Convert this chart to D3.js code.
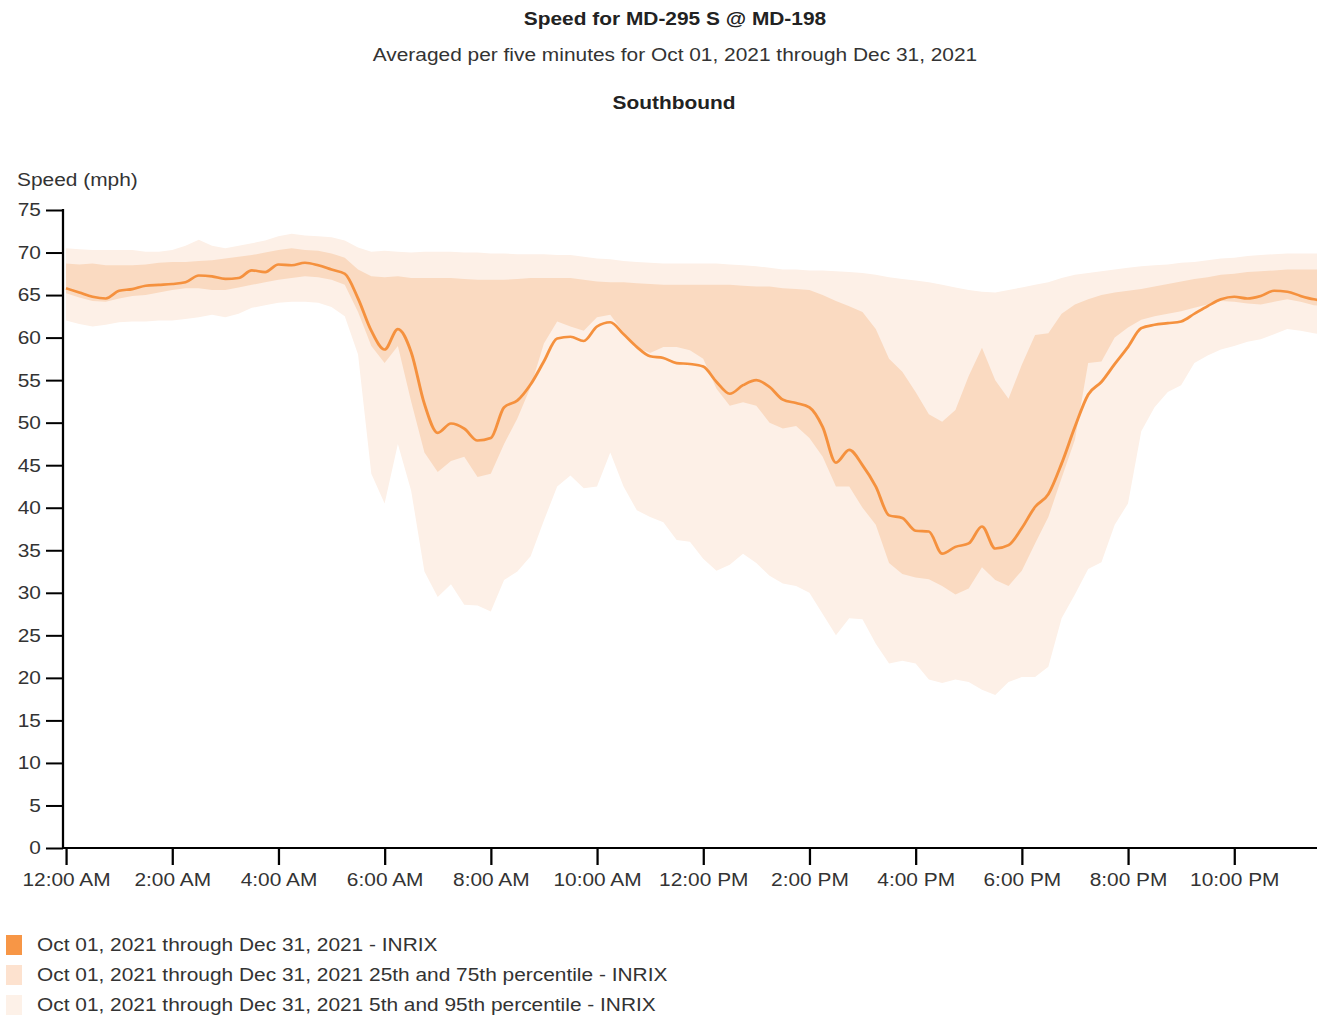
<!DOCTYPE html>
<html>
<head>
<meta charset="utf-8">
<script src="https://cdn.jsdelivr.net/npm/d3@7"></script>
<style>
  body { margin: 0; background: #fff; }
  svg { display: block; font-family: "Liberation Sans", Arial, sans-serif; }
  .axis text { font-size: 18.5px; fill: #333; }
  .axis line, .axis path { stroke: #000; stroke-width: 2; }
</style>
</head>
<body>
<div id="chart"></div>
<script>
// 15-minute readings, 0:00 through 23:45 (one row per hour)
const meanSpeed = [
  65.8, 65.3, 64.8, 64.6,  65.5, 65.7, 66.1, 66.2,  66.3, 66.5, 67.3, 67.2,
  66.9, 67.0, 67.9, 67.7,  68.6, 68.5, 68.8, 68.5,  68.0, 67.5, 64.6, 60.8,
  58.6, 61.0, 58.3, 52.2,  48.8, 49.9, 49.3, 47.9,  48.2, 51.8, 52.6, 54.5,
  57.2, 59.9, 60.1, 59.6,  61.3, 61.8, 60.4, 58.9,  57.8, 57.6, 57.0, 56.9,
  56.6, 54.8, 53.4, 54.4,  55.0, 54.2, 52.7, 52.3,  51.8, 49.5, 45.3, 46.8,
  45.0, 42.5, 39.1, 38.8,  37.3, 37.2, 34.6, 35.4,  35.8, 37.8, 35.2, 35.6,
  37.6, 40.1, 41.6, 45.2,  49.5, 53.3, 54.8, 56.9,  58.9, 61.1, 61.5, 61.7,
  61.9, 62.8, 63.7, 64.5,  64.8, 64.6, 64.9, 65.5,  65.4, 64.9, 64.5, 64.3
];
const p75 = [
  68.7, 68.6, 68.7, 68.5,  68.5, 68.5, 68.6, 68.8,  68.9, 68.9, 69.0, 69.1,
  69.3, 69.5, 69.7, 70.0,  70.3, 70.5, 70.3, 70.2,  69.9, 69.4, 68.0, 67.2,
  67.1, 67.2, 67.0, 67.0,  67.0, 67.0, 66.9, 66.8,  66.8, 66.8, 66.9, 67.0,
  67.0, 67.0, 67.0, 66.8,  66.6, 66.5, 66.5, 66.4,  66.3, 66.2, 66.2, 66.2,
  66.2, 66.2, 66.2, 66.1,  66.0, 66.0, 65.8, 65.7,  65.6, 65.0, 64.3, 63.7,
  63.0, 61.0, 57.5, 56.0,  53.6, 51.0, 50.1, 51.5,  55.5, 58.8, 55.0, 52.8,
  56.8, 60.3, 60.5, 62.8,  63.9, 64.5, 65.0, 65.3,  65.5, 65.7, 66.0, 66.3,
  66.6, 66.9, 67.1, 67.4,  67.5, 67.7, 67.8, 67.9,  68.0, 68.0, 68.0, 68.0
];
const p25 = [
  65.2, 64.7, 64.3, 64.2,  64.6, 64.9, 65.0, 65.3,  65.6, 65.8, 65.8, 65.6,
  65.6, 65.9, 66.2, 66.5,  66.8, 67.0, 67.2, 67.1,  66.8, 66.2, 63.0, 59.0,
  57.0, 59.0, 52.5, 46.5,  44.2, 45.5, 46.0, 43.6,  44.0, 47.5, 50.5, 54.2,
  59.3, 61.9, 61.3, 60.8,  62.4, 62.7, 60.6, 58.8,  58.2, 58.9, 58.9, 58.5,
  57.5, 54.0, 52.0, 52.4,  52.0, 50.0, 49.3, 49.6,  48.2, 46.0, 42.5, 42.5,
  40.0, 38.0, 33.5, 32.2,  31.8, 31.6, 30.8, 29.8,  30.5, 33.0, 31.5, 30.8,
  32.6, 35.8, 38.9, 43.5,  48.0, 57.0, 57.2, 60.0,  61.2, 62.1, 62.5, 62.8,
  63.1, 63.5, 63.9, 64.3,  64.2, 64.0, 63.9, 64.2,  64.5, 64.2, 63.8, 63.7
];
const p95 = [
  70.5, 70.4, 70.3, 70.3,  70.3, 70.3, 70.1, 70.1,  70.3, 70.8, 71.5, 70.8,
  70.5, 70.8, 71.1, 71.4,  71.9, 72.2, 72.0, 71.9,  71.8, 71.4, 70.6, 70.1,
  70.2, 70.1, 70.0, 70.1,  70.1, 70.1, 70.0, 70.0,  69.9, 69.9, 69.8, 69.8,
  69.8, 69.7, 69.7, 69.5,  69.3, 69.2, 69.0, 68.9,  68.8, 68.7, 68.7, 68.7,
  68.7, 68.7, 68.6, 68.5,  68.4, 68.2, 68.0, 68.0,  67.9, 67.9, 67.8, 67.7,
  67.6, 67.4, 67.1, 66.9,  66.7, 66.5, 66.2, 65.9,  65.6, 65.4, 65.3, 65.6,
  65.9, 66.2, 66.5, 67.0,  67.4, 67.6, 67.8, 68.0,  68.2, 68.4, 68.5, 68.6,
  68.8, 68.9, 69.1, 69.3,  69.4, 69.6, 69.7, 69.8,  69.9, 69.9, 69.9, 69.9
];
const p5 = [
  62.0, 61.6, 61.3, 61.5,  61.8, 61.9, 61.9, 62.0,  62.0, 62.2, 62.4, 62.7,
  62.4, 62.8, 63.5, 63.8,  64.1, 64.2, 64.2, 64.1,  63.6, 62.5, 58.0, 44.0,
  40.5, 47.5, 42.0, 32.5,  29.5, 31.0, 28.6, 28.5,  27.8, 31.5, 32.5, 34.3,
  38.5, 42.5, 43.8, 42.3,  42.5, 46.5, 42.5, 39.7,  38.9, 38.3, 36.2, 36.0,
  34.0, 32.6, 33.3, 34.6,  33.5, 32.0, 31.1, 30.8,  30.0, 27.5, 25.0, 27.0,
  26.9, 24.0, 21.7, 22.0,  21.7, 19.8, 19.4, 19.8,  19.5, 18.6, 18.0, 19.5,
  20.1, 20.1, 21.3, 27.0,  29.8, 32.8, 33.6, 38.0,  40.5, 49.0, 51.8, 53.6,
  54.4, 57.0, 57.9, 58.6,  59.0, 59.5, 59.8, 60.4,  61.0, 60.8, 60.5, 60.3
];
const hours = meanSpeed.map((d, i) => i / 4);

const xTicks = [0, 2, 4, 6, 8, 10, 12, 14, 16, 18, 20, 22];
const xLabels = ["12:00 AM", "2:00 AM", "4:00 AM", "6:00 AM", "8:00 AM", "10:00 AM",
                 "12:00 PM", "2:00 PM", "4:00 PM", "6:00 PM", "8:00 PM", "10:00 PM"];
const yTicks = [0, 5, 10, 15, 20, 25, 30, 35, 40, 45, 50, 55, 60, 65, 70, 75];

const legendItems = [
  { label: "Oct 01, 2021 through Dec 31, 2021 - INRIX", color: "#f79646" },
  { label: "Oct 01, 2021 through Dec 31, 2021 25th and 75th percentile - INRIX", color: "#fde2cf" },
  { label: "Oct 01, 2021 through Dec 31, 2021 5th and 95th percentile - INRIX", color: "#fdf1e8" }
];

// the original is a bit wider than tall, so draw in a narrower box and stretch it
const SX = 1.13;
const W = 1317, H = 1016;
const VW = W / SX;

const svg = d3.select("#chart").append("svg")
  .attr("width", W)
  .attr("height", H)
  .attr("viewBox", `0 0 ${VW} ${H}`)
  .attr("preserveAspectRatio", "none");

const x = d3.scaleLinear().domain([0, 24]).range([66 / SX, (66 + 24 * 53.1) / SX]);
const y = d3.scaleLinear().domain([0, 75]).range([848, 210]);

const data = hours.map((h, i) => ({
  h: h, mean: meanSpeed[i], lo25: p25[i], hi75: p75[i], lo5: p5[i], hi95: p95[i]
}));

// bands
svg.append("path")
  .datum(data)
  .attr("fill", "#fdf0e7")
  .attr("d", d3.area().x(d => x(d.h)).y0(d => y(d.lo5)).y1(d => y(d.hi95)));

svg.append("path")
  .datum(data)
  .attr("fill", "#fadac1")
  .attr("d", d3.area().x(d => x(d.h)).y0(d => y(d.lo25)).y1(d => y(d.hi75)));

// mean line
svg.append("path")
  .datum(data)
  .attr("fill", "none")
  .attr("stroke", "#f5913e")
  .attr("stroke-width", 2.6)
  .attr("stroke-linejoin", "round")
  .attr("d", d3.line().curve(d3.curveMonotoneX).x(d => x(d.h)).y(d => y(d.mean)));

// axes
const yAxis = svg.append("g")
  .attr("class", "axis")
  .attr("transform", `translate(${63 / SX},0)`)
  .call(d3.axisLeft(y).tickValues(yTicks).tickSize(17 / SX).tickSizeOuter(0).tickPadding(4.5));
yAxis.select(".domain").remove();
yAxis.append("line")
  .attr("x1", 0).attr("x2", 0)
  .attr("y1", y(75) - 1).attr("y2", y(0) + 1);

const xAxis = svg.append("g")
  .attr("class", "axis")
  .attr("transform", `translate(0,${y(0)})`)
  .call(d3.axisBottom(x).tickValues(xTicks).tickFormat((d, i) => xLabels[i])
    .tickSize(17).tickSizeOuter(0).tickPadding(8));
xAxis.select(".domain").remove();
xAxis.append("line")
  .attr("x1", 62 / SX).attr("x2", VW)
  .attr("y1", 0).attr("y2", 0);

// titles
svg.append("text")
  .attr("x", 675 / SX).attr("y", 25)
  .attr("text-anchor", "middle")
  .attr("font-size", "18.5px").attr("font-weight", "bold").attr("fill", "#222")
  .text("Speed for MD-295 S @ MD-198");

svg.append("text")
  .attr("x", 675 / SX).attr("y", 61)
  .attr("text-anchor", "middle")
  .attr("font-size", "18.5px").attr("fill", "#333")
  .text("Averaged per five minutes for Oct 01, 2021 through Dec 31, 2021");

svg.append("text")
  .attr("x", 674 / SX).attr("y", 109)
  .attr("text-anchor", "middle")
  .attr("font-size", "18.5px").attr("font-weight", "bold").attr("fill", "#222")
  .text("Southbound");

svg.append("text")
  .attr("x", 17 / SX).attr("y", 186)
  .attr("font-size", "18.5px").attr("fill", "#333")
  .text("Speed (mph)");

// legend
const legend = svg.append("g").attr("class", "legend");
legendItems.forEach((item, i) => {
  legend.append("rect")
    .attr("x", 6 / SX)
    .attr("y", 935 + i * 30)
    .attr("width", 16 / SX)
    .attr("height", 20)
    .attr("fill", item.color);

  legend.append("text")
    .attr("x", 37 / SX)
    .attr("y", 951 + i * 30)
    .attr("font-size", "18.5px")
    .attr("fill", "#333")
    .text(item.label);
});
</script>
</body>
</html>
